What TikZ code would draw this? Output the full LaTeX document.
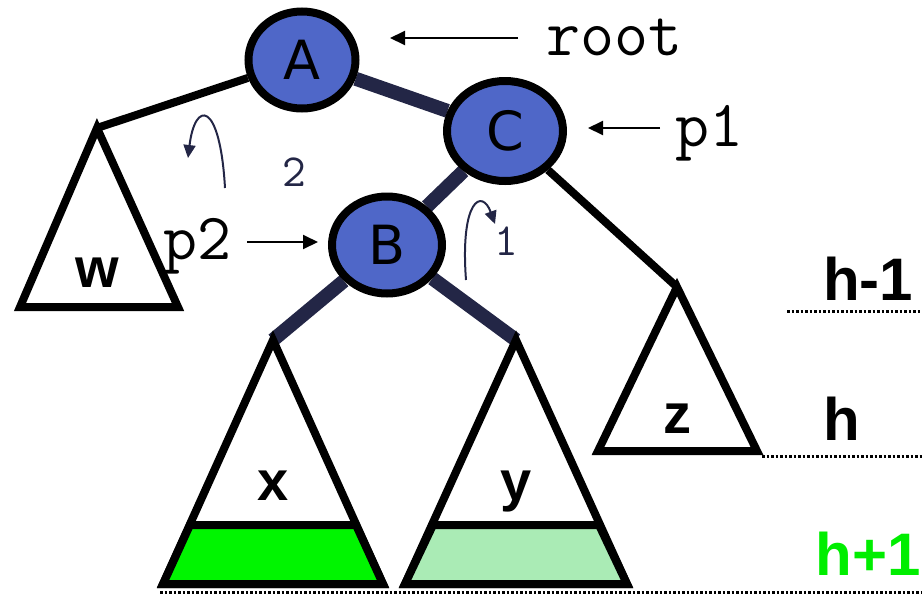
\documentclass[tikz,border=0pt]{standalone}
\usepackage{fontspec}
\setmainfont{Liberation Sans}
\newfontfamily\nodefont{DejaVu Sans}
\usetikzlibrary{shapes.geometric,arrows.meta,backgrounds}
\definecolor{nodeblue}{RGB}{79,103,200}
\definecolor{navy}{RGB}{35,38,70}
\definecolor{brightgreen}{RGB}{0,245,0}
\definecolor{lightgreen}{RGB}{170,235,181}
\definecolor{labelgreen}{RGB}{0,238,0}
\begin{document}
\begin{tikzpicture}[x=1pt,y=-1pt,
  treenode/.style={ellipse,draw=black,line width=8pt,fill=nodeblue,inner sep=0pt,
    font=\nodefont\fontsize{54}{60}\selectfont},
  thickedge/.style={navy,line width=14pt},
  thinedge/.style={black,line width=8pt},
  subtree/.style={draw=black,line width=8pt,line join=miter},
  sublabel/.style={font=\bfseries\fontsize{56}{60}\selectfont,inner sep=0pt,anchor=base},
  ptrlabel/.style={font=\ttfamily\fontsize{66}{70}\selectfont,inner sep=0pt,anchor=base west},
  ptrarrow/.style={black,line width=2pt,-{Triangle[length=15pt,width=14pt]}},
  rotarrow/.style={navy,line width=2pt,-{Triangle[length=13pt,width=12pt]}},
  rotlabel/.style={navy,font=\ttfamily\fontsize{46}{50}\selectfont,inner sep=0pt},
  levellabel/.style={font=\bfseries\fontsize{60}{64}\selectfont,inner sep=0pt,anchor=base west},
  levelline/.style={black,line width=3pt,dash pattern=on 2.5pt off 2pt}
]
\useasboundingbox (0,0) rectangle (922,595);

% tree nodes
\node[treenode,minimum width=107pt,minimum height=97pt] (A) at (302,60) {A};
\node[treenode,minimum width=116pt,minimum height=100pt] (C) at (505,131) {C};
\node[treenode,minimum width=110pt,minimum height=97pt] (B) at (387,245) {B};

% subtree corners
\coordinate (wtop) at (97,128);
\coordinate (wl) at (20,307);
\coordinate (wr) at (178,307);
\coordinate (ztop) at (677,287);
\coordinate (zl) at (598,451);
\coordinate (zr) at (757,451);
\coordinate (xtop) at (273,340);
\coordinate (xl) at (163,584);
\coordinate (xr) at (383,584);
\coordinate (xbl) at (190,525);
\coordinate (xbr) at (356,525);
\coordinate (ytop) at (516,340);
\coordinate (yl) at (405,584);
\coordinate (yr) at (627,584);
\coordinate (ybl) at (433,525);
\coordinate (ybr) at (599,525);

% edges
\begin{scope}[on background layer]
\draw[thinedge] (A) -- (wtop);
\draw[thinedge] (C) -- (ztop);
\draw[thickedge] (A) -- (C);
\draw[thickedge] (C) -- (B);
\draw[thickedge] (B) -- (xtop);
\draw[thickedge] (B) -- (ytop);
\end{scope}

% subtrees
\draw[subtree] (wtop) -- (wl) -- (wr) -- cycle;
\draw[subtree] (ztop) -- (zl) -- (zr) -- cycle;
\draw[subtree] (xtop) -- (xl) -- (xr) -- cycle;
\draw[subtree] (ytop) -- (yl) -- (yr) -- cycle;
\draw[subtree,fill=brightgreen] (xbl) -- (xl) -- (xr) -- (xbr) -- cycle;
\draw[subtree,fill=lightgreen] (ybl) -- (yl) -- (yr) -- (ybr) -- cycle;

\node[sublabel] (w) at (97,287) {w};
\node[sublabel] (z) at (677,433) {z};
\node[sublabel] (x) at (273,500) {x};
\node[sublabel] (y) at (516,500) {y};

% pointers
\node[ptrlabel] (root) at (546,55) {root};
\coordinate (rootfrom) at (518,38);
\coordinate (rootto) at (390,38);
\draw[ptrarrow] (rootfrom) -- (rootto);
\node[ptrlabel] (p1) at (675,146) {p1};
\coordinate (p1from) at (660,128);
\coordinate (p1to) at (588,128);
\draw[ptrarrow] (p1from) -- (p1to);
\node[ptrlabel] (p2) at (163,259) {p2};
\coordinate (p2from) at (247,242);
\coordinate (p2to) at (318,242);
\draw[ptrarrow] (p2from) -- (p2to);

% rotation arrows
\coordinate (r2from) at (225,188);
\coordinate (r2to) at (188,158);
\draw[rotarrow] (r2from) .. controls (220,100) and (195,100) .. (r2to);
\node[rotlabel] (two) at (294,172) {2};
\coordinate (r1from) at (466,280);
\coordinate (r1to) at (495,224);
\draw[rotarrow] (r1from) .. controls (460,200) and (482,188) .. (r1to);
\node[rotlabel] (one) at (506,241) {1};

% levels
\node[levellabel] (hm) at (823,300) {h-1};
\node[levellabel] (h) at (823,440) {h};
\node[levellabel,text=labelgreen,anchor=base east] (hp) at (921,575) {h+1};
\coordinate (l1a) at (787,311);
\coordinate (l1b) at (922,311);
\coordinate (l2a) at (762,456);
\coordinate (l2b) at (922,456);
\coordinate (l3a) at (160,592);
\coordinate (l3b) at (922,592);
\draw[levelline] (l1a) -- (l1b);
\draw[levelline] (l2a) -- (l2b);
\draw[levelline] (l3a) -- (l3b);
\end{tikzpicture}
\end{document}
